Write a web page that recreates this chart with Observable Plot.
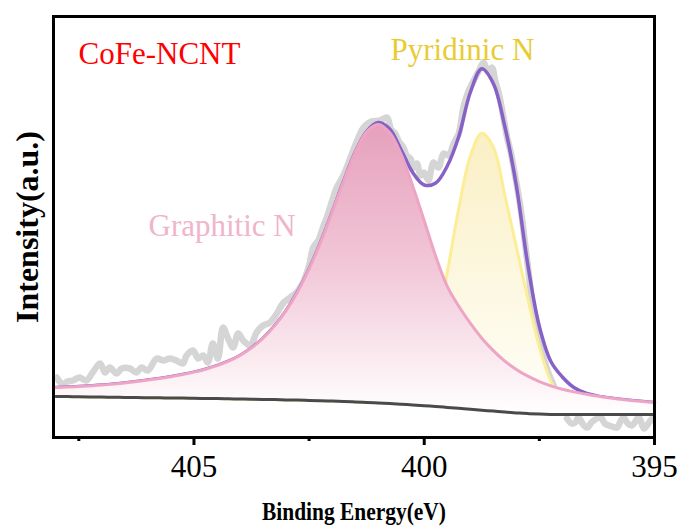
<!DOCTYPE html>
<html><head><meta charset="utf-8">
<script src="https://cdn.jsdelivr.net/npm/d3@7"></script>
<script src="https://cdn.jsdelivr.net/npm/@observablehq/plot@0.6"></script>
<style>
html,body{margin:0;padding:0;background:#fff;}
svg, svg text, svg g{font-family:"Liberation Serif","Times New Roman",serif !important;}
</style>
</head><body><div id="chart"></div>
<script>
// Binding energy grid (eV) for the fitted curves
const energy = [408,407.75,407.5,407.25,407,406.75,406.5,406.25,406,405.75,405.5,405.25,405,404.75,404.5,404.25,404,403.75,403.5,403.25,403,402.75,402.5,402.25,402,401.75,401.5,401.25,401,400.75,400.5,400.25,400,399.75,399.5,399.25,399,398.75,398.5,398.25,398,397.75,397.5,397.25,397,396.75,396.5,396.25,396,395.75,395.5,395.25,395];
// Shirley-type background (a.u.)
const background = [41.0,40.9,40.7,40.6,40.4,40.3,40.1,40.0,39.8,39.7,39.5,39.4,39.2,39.0,38.9,38.7,38.5,38.3,38.1,37.9,37.6,37.4,37.1,36.8,36.4,36.0,35.6,35.1,34.6,34.0,33.3,32.6,31.8,31.0,30.1,29.2,28.3,27.3,26.4,25.4,24.6,23.9,23.4,23.1,23.0,23.0,23.0,23.0,23.0,23.0,23.0,23.0,23.0];
// Graphitic N component (on background)
const graphiticN = [49.9,50.4,50.9,51.6,52.4,53.5,54.6,56.0,57.4,59.0,60.8,63.0,65.4,68.3,71.9,76.3,82.1,89.7,99.3,111.6,126.8,145.8,168.6,195.4,225.3,256.5,285.1,305.8,313.1,304.7,282.8,251.6,216.8,181.0,151.1,131.2,114.3,99.3,86.9,76.4,68.1,61.3,55.9,51.7,48.3,45.6,43.4,41.4,39.7,38.3,37.0,35.9,34.9];
// Pyridinic N component (on background)
const pyridinicN = [41.0,40.9,40.7,40.6,40.4,40.3,40.1,40.0,39.8,39.7,39.5,39.4,39.2,39.0,38.9,38.7,38.5,38.3,38.1,37.9,37.6,37.4,37.1,36.8,36.4,36.0,35.6,35.1,35.1,35.5,38.3,46.6,66.8,106.0,165.1,229.2,281.3,304.3,290.4,242.4,190.6,138.9,90.4,56.1,37.0,28.0,24.5,23.3,23.0,23.0,23.0,23.0,23.0];
// Envelope (sum fit)
const envelope = [49.9,50.4,50.9,51.6,52.4,53.5,54.6,56.0,57.4,59.0,60.8,63.0,65.4,68.3,71.9,76.3,82.1,89.7,99.3,111.6,126.8,145.8,168.6,195.4,225.3,256.5,285.2,306.2,315.0,308.5,287.5,265.0,252.5,254.5,271.5,301.0,345.0,368.7,354.0,311.0,252.0,172.5,111.0,76.0,60.5,50.0,44.5,41.6,39.8,38.3,37.0,35.9,34.9];
// Raw spectrum
const rawEnergy = [407.98,407.92,407.85,407.75,407.63,407.55,407.48,407.40,407.33,407.20,407.04,406.93,406.83,406.68,406.57,406.39,406.25,406.14,406.00,405.81,405.67,405.52,405.38,405.24,405.16,405.02,404.91,404.80,404.70,404.59,404.48,404.37,404.26,404.15,404.04,403.93,403.78,403.64,403.50,403.35,403.20,403.07,402.91,402.77,402.63,402.50,402.41,402.30,402.20,402.10,401.90,401.80,401.70,401.60,401.50,401.36,401.28,401.15,400.96,400.81,400.72,400.63,400.55,400.45,400.38,400.30,400.23,400.16,400.08,400.01,399.91,399.85,399.80,399.69,399.58,399.47,399.36,399.25,399.15,399.05,398.89,398.80,398.71,398.62,398.53,398.46,398.37,398.28,398.20,398.13,398.02,397.91,397.80,397.72,397.66,397.58,397.52,397.40,397.30,397.19,397.10,396.90,396.80,396.72,396.65,396.55,396.46,396.35,396.17,396.08,395.99,395.81,395.74,395.67,395.58,395.49,395.34,395.23,395.12,395.05];
const rawIntensity = [60,56,53,56,57,59,60,58,57,65,74,65,70,64,69,69,65,70,67,79,77,79,77,74,82,87,79,82,75,94,79,110,99,90,104,97,92,105,112,115,124,134,140,145,155,172,190,197,210,222,250,258,268,280,292,307,312,316,317,320,308,304,296,290,282,279,270,274,262,265,257,268,275,270,284,282,294,304,330,345,360,368,375,366,370,357,342,320,300,287,260,230,190,160,135,112,97,78,64,52,NaN,19,14,15,20,13,10,16,20,14,12,10,16,20,14,12,20,9,15,19];
const majorTicks = [405, 400, 395];
const minorTicks = [407.5, 402.5, 397.5];
const sampleLabel = "CoFe-NCNT";
const graphiticLabel = "Graphitic N";
const pyridinicLabel = "Pyridinic N";
const xTitle = "Binding Energy(eV)";
const yTitle = "Intensity(a.u.)";

const fit = energy.map((e, i) => ({e, bg: background[i], g: graphiticN[i], p: pyridinicN[i], env: envelope[i]}));
const raw = rawEnergy.map((e, i) => ({e, v: rawIntensity[i]}));

const serif = "Liberation Serif";
const chart = Plot.plot({
  width: 682, height: 527,
  marginLeft: 53, marginRight: 28, marginTop: 16, marginBottom: 90,
  style: {fontFamily: serif, fontSize: "31px", background: "#fff", color: "#000", overflow: "visible"},
  x: {domain: [408.05, 395]},
  y: {domain: [0, 421], axis: null},
  marks: [
    Plot.line(raw, {x: "e", y: "v", stroke: "#d5d5d5", strokeWidth: 6.5, curve: "catmull-rom", strokeLinejoin: "round", strokeLinecap: "round"}),
    Plot.areaY(fit, {x: "e", y1: "bg", y2: "p", fill: "url(#yellowGrad)", curve: "catmull-rom"}),
    Plot.line(fit, {x: "e", y: "p", stroke: "#fbee96", strokeWidth: 3, curve: "catmull-rom"}),
    Plot.line(fit, {x: "e", y: "env", stroke: "#8762c6", strokeWidth: 3.5, curve: "catmull-rom"}),
    Plot.areaY(fit, {x: "e", y1: "bg", y2: "g", fill: "url(#pinkGrad)", curve: "catmull-rom"}),
    Plot.line(fit, {x: "e", y: "g", stroke: "#eea5c5", strokeWidth: 3, curve: "catmull-rom"}),
    Plot.line(fit, {x: "e", y: "bg", stroke: "#4a4a4a", strokeWidth: 3, curve: "catmull-rom"}),
    Plot.frame({stroke: "#000", strokeWidth: 3}),
    Plot.axisX({ticks: majorTicks, tickSize: 8, strokeWidth: 3, fill: "none", label: null}),
    Plot.axisX({ticks: minorTicks, tickSize: 4, strokeWidth: 3, fill: "none", label: null}),
    Plot.text(majorTicks, {x: d => d, text: d => String(d), frameAnchor: "bottom", dy: 30, textAnchor: "middle", lineAnchor: "middle", fontSize: 31, fontFamily: serif, fill: "#000"}),
    Plot.text([sampleLabel], {text: d => d, frameAnchor: "top-left", textAnchor: "start", lineAnchor: "middle", dx: 25, dy: 38, fontSize: 31, fontFamily: serif, fill: "#ff0000"}),
    Plot.text([graphiticLabel], {text: d => d, frameAnchor: "top-left", textAnchor: "start", lineAnchor: "middle", dx: 95, dy: 210, fontSize: 31, fontFamily: serif, fill: "#f0b4cc"}),
    Plot.text([pyridinicLabel], {text: d => d, frameAnchor: "top-left", textAnchor: "start", lineAnchor: "middle", dx: 337, dy: 34, fontSize: 31, fontFamily: serif, fill: "#e8cc34"}),
    Plot.text([yTitle], {text: d => d, frameAnchor: "left", dx: -26, rotate: -90, textAnchor: "middle", lineAnchor: "middle", fontSize: 32, fontWeight: "bold", fontFamily: serif, fill: "#000"}),
    Plot.text([xTitle], {text: d => d, frameAnchor: "bottom", dy: 74, textAnchor: "middle", lineAnchor: "middle", fontSize: 25, fontWeight: "bold", fontFamily: serif, fill: "#000"})
  ]
});

const defs = d3.select(chart).insert("defs", ":first-child");
const pg = defs.append("linearGradient").attr("id", "pinkGrad").attr("x1", 0).attr("y1", 0).attr("x2", 0).attr("y2", 1);
pg.append("stop").attr("offset", "0%").attr("stop-color", "#e6a0bc");
pg.append("stop").attr("offset", "50%").attr("stop-color", "#f2c8d8");
pg.append("stop").attr("offset", "100%").attr("stop-color", "#ffffff");
const yg = defs.append("linearGradient").attr("id", "yellowGrad").attr("x1", 0).attr("y1", 0).attr("x2", 0).attr("y2", 1);
yg.append("stop").attr("offset", "0%").attr("stop-color", "#faefc4");
yg.append("stop").attr("offset", "100%").attr("stop-color", "#fffffa");

// condensed x-axis title as in the reference
d3.select(chart).selectAll("text").filter(function() { return this.textContent === xTitle; })
  .attr("textLength", 184).attr("lengthAdjust", "spacingAndGlyphs");

document.getElementById("chart").appendChild(chart);
</script>
</body></html>
